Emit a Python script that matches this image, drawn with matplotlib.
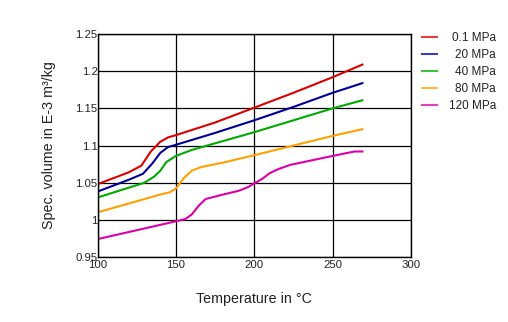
import matplotlib.pyplot as plt

plt.rcParams['font.family'] = ['Liberation Sans', 'DejaVu Sans']

labels = ['0.1 MPa', '20 MPa', '40 MPa', '80 MPa', '120 MPa']
colors = ['#dd0000', '#000099', '#00aa00', '#ffa000', '#dd00aa']

# temperature (°C) and specific volume (E-3 m³/kg)
t_01 = [100, 110, 120, 128, 134, 140, 145, 150, 175, 200, 225, 250, 269]
v_01 = [1.048, 1.056, 1.064, 1.073, 1.092, 1.105, 1.111, 1.114, 1.131, 1.151, 1.171, 1.192, 1.209]

t_20 = [100, 110, 120, 129, 135, 140, 145, 150, 175, 200, 225, 250, 269]
v_20 = [1.038, 1.046, 1.054, 1.062, 1.076, 1.090, 1.098, 1.101, 1.117, 1.134, 1.152, 1.171, 1.184]

t_40 = [100, 115, 130, 136, 140, 144, 150, 160, 180, 200, 225, 250, 269]
v_40 = [1.030, 1.040, 1.050, 1.058, 1.066, 1.078, 1.086, 1.094, 1.106, 1.118, 1.134, 1.150, 1.161]

t_80 = [100, 120, 140, 146, 150, 155, 160, 166, 180, 200, 225, 250, 269]
v_80 = [1.010, 1.022, 1.034, 1.037, 1.042, 1.056, 1.066, 1.071, 1.077, 1.087, 1.100, 1.113, 1.122]

t_120 = [100, 125, 150, 156, 160, 165, 169, 180, 190, 196, 200, 205, 210, 215, 223, 250, 264, 269]
v_120 = [0.974, 0.986, 0.998, 1.001, 1.007, 1.020, 1.028, 1.034, 1.039, 1.044, 1.049, 1.055, 1.063, 1.068, 1.074, 1.086, 1.092, 1.092]

series = [(t_01, v_01), (t_20, v_20), (t_40, v_40), (t_80, v_80), (t_120, v_120)]

fig = plt.figure(figsize=(5.08, 3.22), dpi=100)
ax = fig.add_axes([0.192, 0.202, 0.617, 0.692])

lines = []
for (t, v), c in zip(series, colors):
    ln, = ax.plot(t, v, color=c, linewidth=1.5)
    lines.append(ln)

ax.set_xlim(100, 300)
ax.set_ylim(0.95, 1.25)
ax.set_xticks([100, 150, 200, 250, 300])
ax.set_yticks([0.95, 1.0, 1.05, 1.1, 1.15, 1.2, 1.25])
ax.set_yticklabels(['0.95', '1', '1.05', '1.1', '1.15', '1.2', '1.25'])
ax.grid(True, color='black', linewidth=0.9)
ax.set_axisbelow(True)
for s in ax.spines.values():
    s.set_color('black')
    s.set_linewidth(1.0)
ax.tick_params(length=0, labelsize=8.2, colors='#222222')
ax.tick_params(axis='x', pad=2)
ax.tick_params(axis='y', pad=0)

ax.set_xlabel('Temperature in °C', fontsize=10.3, color='#222222', labelpad=16)
ax.set_ylabel('Spec. volume in E-3 m³/kg', fontsize=10.3, color='#222222', labelpad=14)

leg = fig.legend(lines, labels, loc='upper left', bbox_to_anchor=(0.830, 0.90),
                 frameon=False, fontsize=8.5, handlelength=1.3, handletextpad=1.0,
                 labelspacing=0.42, borderpad=0, borderaxespad=0)
for text in leg.get_texts():
    text.set_color('#222222')
for h in leg.legend_handles:
    h.set_alpha(0.75)
# right-align legend labels on a common edge
fig.canvas.draw()
r = max(t.get_window_extent().x1 for t in leg.get_texts())
for text in leg.get_texts():
    text.set_position((r - text.get_window_extent().x1, 0))

fig.savefig('out.png', dpi=100)
